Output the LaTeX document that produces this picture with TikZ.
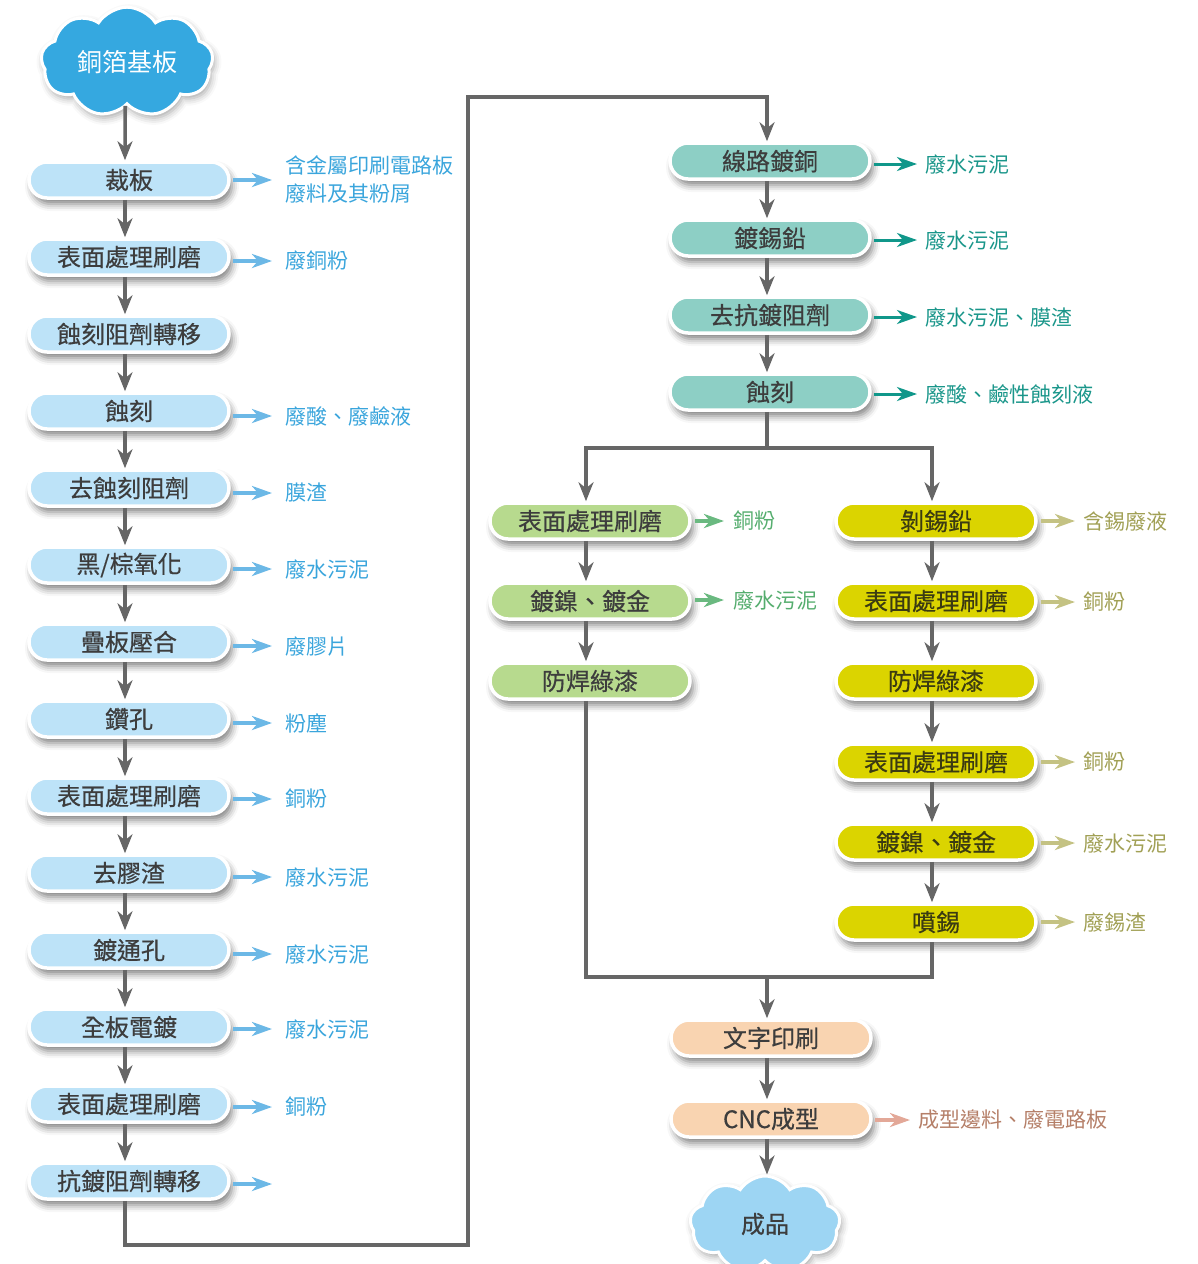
\documentclass[tikz,border=0pt]{standalone}
\usepackage{fontspec}
\setmainfont{Noto Sans CJK TC}
\newfontfamily\boxfam{Noto Sans CJK TC}[FakeBold=0.5]
\usetikzlibrary{arrows.meta,shapes.symbols,shadows.blur,calc}
\definecolor{lbfill}{HTML}{BDE3F8}
\definecolor{llabc}{HTML}{3AA5DC}
\definecolor{larr}{HTML}{6CB8E6}
\definecolor{cloudtop}{HTML}{35A8E0}
\definecolor{cloudbot}{HTML}{9DD5F3}
\definecolor{tfill}{HTML}{8DCFC5}
\definecolor{tarr}{HTML}{10978A}
\definecolor{tlabc}{HTML}{1A968A}
\definecolor{gfill}{HTML}{B7DA8E}
\definecolor{garr}{HTML}{6AB980}
\definecolor{glabc}{HTML}{55AD6E}
\definecolor{yfill}{HTML}{DBD400}
\definecolor{yarr}{HTML}{C4C283}
\definecolor{ylabc}{HTML}{A1A055}
\definecolor{ofill}{HTML}{F9D4B1}
\definecolor{oarr}{HTML}{E3A898}
\definecolor{olabc}{HTML}{B57F68}
\definecolor{boxtext}{HTML}{3D3D3D}
\definecolor{ytext}{HTML}{3B3B12}
\definecolor{flowgray}{HTML}{666666}
\newcommand{\boxfont}{\boxfam\fontsize{24}{27}\selectfont}
\newcommand{\labfont}{\fontsize{21}{28}\selectfont}
\begin{document}
\begin{tikzpicture}[x=1pt,y=-1pt,
  pill/.style={draw=white, line width=3.5pt, rounded corners=18pt,
    minimum width=200pt, minimum height=36pt, inner sep=0pt,
    font=\boxfont, text=boxtext,
    blur shadow={shadow xshift=3pt,shadow yshift=-6pt,shadow blur radius=7pt,shadow opacity=50}},
  lbox/.style={pill, fill=lbfill},
  tbox/.style={pill, fill=tfill},
  gbox/.style={pill, fill=gfill},
  ybox/.style={pill, fill=yfill, text=ytext},
  obox/.style={pill, fill=ofill},
  lab/.style={anchor=west, inner sep=0pt, font=\labfont, align=left},
  llab/.style={lab, text=llabc},
  tlab/.style={lab, text=tlabc},
  glab/.style={lab, text=glabc},
  ylab/.style={lab, text=ylabc},
  olab/.style={lab, text=olabc},
  flow/.style={draw=flowgray, line width=3.5pt, -{Stealth[length=19pt,width=15pt,inset=6pt]}},
  flowline/.style={draw=flowgray, line width=3.5pt},
  sidearr/.style={line width=3.5pt, -{Stealth[length=20pt,width=14pt,inset=6pt]}},
  lsa/.style={sidearr, draw=larr},
  tsa/.style={sidearr, draw=tarr, line width=3pt},
  gsa/.style={sidearr, draw=garr},
  ysa/.style={sidearr, draw=yarr},
  osa/.style={sidearr, draw=oarr},
  cloudnode/.style={cloud, cloud puffs=9, cloud puff arc=115, aspect=1.6,
    draw=white, line width=3pt, inner sep=0pt,
    blur shadow={shadow xshift=2pt,shadow yshift=-4pt,shadow blur radius=7pt,shadow opacity=35}}
]
\useasboundingbox (0,0) rectangle (1198,1264);

% ---------- top cloud ----------
\node[cloudnode, fill=cloudtop, minimum width=172pt, minimum height=106pt,
      text=white, font=\fontsize{25}{28}\selectfont] (C0) at (127,62) {銅箔基板};

% ---------- left column ----------
\node[lbox] (L1)  at (129,180)  {裁板};
\node[lbox] (L2)  at (129,257)  {表面處理刷磨};
\node[lbox] (L3)  at (129,334)  {蝕刻阻劑轉移};
\node[lbox] (L4)  at (129,411)  {蝕刻};
\node[lbox] (L5)  at (129,488)  {去蝕刻阻劑};
\node[lbox] (L6)  at (129,565)  {黑/棕氧化};
\node[lbox] (L7)  at (129,642)  {疊板壓合};
\node[lbox] (L8)  at (129,719)  {鑽孔};
\node[lbox] (L9)  at (129,796)  {表面處理刷磨};
\node[lbox] (L10) at (129,873)  {去膠渣};
\node[lbox] (L11) at (129,950)  {鍍通孔};
\node[lbox] (L12) at (129,1027) {全板電鍍};
\node[lbox] (L13) at (129,1104) {表面處理刷磨};
\node[lbox] (L14) at (129,1181) {抗鍍阻劑轉移};

\node[llab] (E1)  at (285,180)  {含金屬印刷電路板\\廢料及其粉屑};
\node[llab] (E2)  at (285,261)  {廢銅粉};
\node[llab] (E4)  at (285,416)  {廢酸、廢鹼液};
\node[llab] (E5)  at (285,493)  {膜渣};
\node[llab] (E6)  at (285,569)  {廢水污泥};
\node[llab] (E7)  at (285,646)  {廢膠片};
\node[llab] (E8)  at (285,723)  {粉塵};
\node[llab] (E9)  at (285,799)  {銅粉};
\node[llab] (E10) at (285,877)  {廢水污泥};
\node[llab] (E11) at (285,954)  {廢水污泥};
\node[llab] (E12) at (285,1029) {廢水污泥};
\node[llab] (E13) at (285,1107) {銅粉};
\node[llab] (E14) at (285,1184) {};

\foreach \b/\e in {L1/E1,L2/E2,L4/E4,L5/E5,L6/E6,L7/E7,L8/E8,L9/E9,L10/E10,L11/E11,L12/E12,L13/E13,L14/E14}
  \draw[lsa] (\b.east |- \e.west) ++(2,0) -- ([xshift=-13pt]\e.west);

\draw[flow] ([xshift=-2pt]C0.south) -- ([xshift=-4pt]L1.north);
\foreach \a/\b in {L1/L2,L2/L3,L3/L4,L4/L5,L5/L6,L6/L7,L7/L8,L8/L9,L9/L10,L10/L11,L11/L12,L12/L13,L13/L14}
  \draw[flow] ([xshift=-4pt]\a.south) -- ([xshift=-4pt]\b.north);

% ---------- teal column ----------
\node[tbox] (T1) at (770,161) {線路鍍銅};
\node[tbox] (T2) at (770,238) {鍍錫鉛};
\node[tbox] (T3) at (770,315) {去抗鍍阻劑};
\node[tbox] (T4) at (770,392) {蝕刻};
\node[tlab] (F1) at (925,164) {廢水污泥};
\node[tlab] (F2) at (925,240) {廢水污泥};
\node[tlab] (F3) at (925,317) {廢水污泥、膜渣};
\node[tlab] (F4) at (925,394) {廢酸、鹼性蝕刻液};
\foreach \b/\e in {T1/F1,T2/F2,T3/F3,T4/F4}
  \draw[tsa] (\b.east |- \e.west) ++(2,0) -- ([xshift=-8pt]\e.west);
\foreach \a/\b in {T1/T2,T2/T3,T3/T4}
  \draw[flow] ([xshift=-3pt]\a.south) -- ([xshift=-3pt]\b.north);

% big connector from left column to teal column
\draw[flow] ([xshift=-4pt]L14.south) -- (125,1245) -| (468,97) -| ([xshift=-3pt]T1.north);

% ---------- green column ----------
\node[gbox] (G1) at (590,521) {表面處理刷磨};
\node[gbox] (G2) at (590,601) {鍍鎳、鍍金};
\node[gbox] (G3) at (590,681) {防焊綠漆};
\node[glab] (H1) at (733,521) {銅粉};
\node[glab] (H2) at (733,600) {廢水污泥};
\foreach \b/\e in {G1/H1,G2/H2}
  \draw[gsa] (\b.east |- \e.west) ++(3,0) -- ([xshift=-9pt]\e.west);
\foreach \a/\b in {G1/G2,G2/G3}
  \draw[flow] ([xshift=-4pt]\a.south) -- ([xshift=-4pt]\b.north);

% ---------- yellow column ----------
\node[ybox] (Y1) at (936,521) {剝錫鉛};
\node[ybox] (Y2) at (936,601) {表面處理刷磨};
\node[ybox] (Y3) at (936,681) {防焊綠漆};
\node[ybox] (Y4) at (936,762) {表面處理刷磨};
\node[ybox] (Y5) at (936,842) {鍍鎳、鍍金};
\node[ybox] (Y6) at (936,922) {噴錫};
\node[ylab] (K1) at (1083,521) {含錫廢液};
\node[ylab] (K2) at (1083,602) {銅粉};
\node[ylab] (K4) at (1083,762) {銅粉};
\node[ylab] (K5) at (1083,843) {廢水污泥};
\node[ylab] (K6) at (1083,922) {廢錫渣};
\foreach \b/\e in {Y1/K1,Y2/K2,Y4/K4,Y5/K5,Y6/K6}
  \draw[ysa] (\b.east |- \e.west) ++(3,0) -- ([xshift=-8pt]\e.west);
\foreach \a/\b in {Y1/Y2,Y2/Y3,Y3/Y4,Y4/Y5,Y5/Y6}
  \draw[flow] ([xshift=-4pt]\a.south) -- ([xshift=-4pt]\b.north);

% split after etching
\coordinate (J1) at (767,448);
\draw[flowline] ([xshift=-3pt]T4.south) -- (J1);
\draw[flow] (J1) -| ([xshift=-4pt]G1.north);
\draw[flow] (J1) -| ([xshift=-4pt]Y1.north);

% merge
\coordinate (M1) at (767,977);
\draw[flowline] ([xshift=-4pt]G3.south) |- (M1) -| ([xshift=-4pt]Y6.south);

% ---------- orange ----------
\node[obox] (O1) at (771,1038) {文字印刷};
\node[obox] (O2) at (771,1119) {CNC成型};
\node[olab] (P2) at (918,1120) {成型邊料、廢電路板};
\draw[osa] (O2.east |- P2.west) ++(2,0) -- ([xshift=-8pt]P2.west);
\draw[flow] (M1) -- ([xshift=-4pt]O1.north);
\draw[flow] ([xshift=-4pt]O1.south) -- ([xshift=-4pt]O2.north);

% ---------- bottom cloud ----------
\node[cloudnode, fill=cloudbot, minimum width=150pt, minimum height=96pt,
      text=boxtext, font=\boxfam\fontsize{24}{27}\selectfont] (C1) at (765,1224) {成品};
\draw[flow] ([xshift=-4pt]O2.south) -- ([xshift=-4pt]O2.south |- C1.north);
\end{tikzpicture}
\end{document}
